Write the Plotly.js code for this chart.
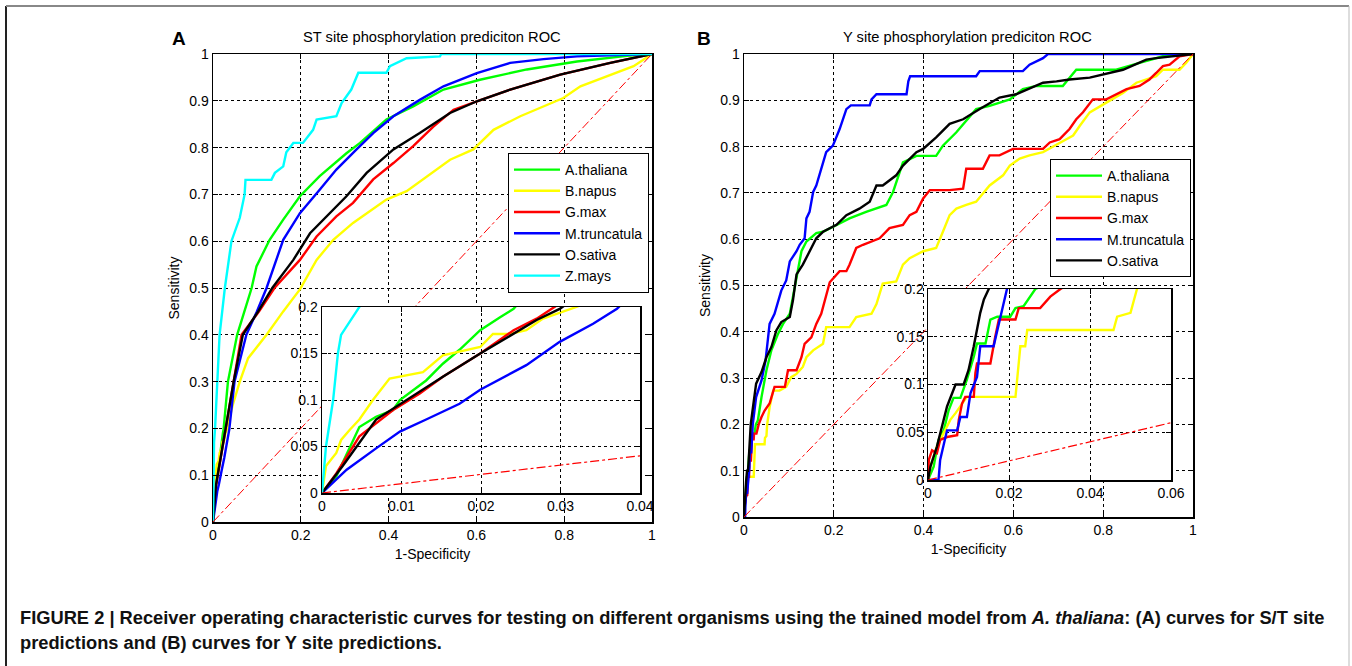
<!DOCTYPE html>
<html>
<head>
<meta charset="utf-8">
<script src="https://cdn.plot.ly/plotly-3.0.1.min.js"></script>
<style>html,body{margin:0;padding:0;background:#fff;}#chart{width:1352px;height:666px;}</style>
</head>
<body>
<div id="chart"></div>
<script>
// ---------- Panel A: S/T site ROC ----------
const seriesNames = ["A.thaliana", "B.napus", "G.max", "M.truncatula", "O.sativa", "Z.mays"];
const seriesColors = ["#00ff00", "#ffff00", "#ff0000", "#0000ff", "#000000", "#00ffff"];

const stThalX = [0,0.0018,0.0047,0.0068,0.0089,0.0098,0.0131,0.0152,0.0173,0.0199,0.0224,0.0241,0.034,0.055,0.088,0.099,0.129,0.16,0.198,0.243,0.304,0.335,0.395,0.456,0.525,0.608,0.715,0.829,0.943,1];
const stThalY = [0,0.018,0.071,0.082,0.089,0.1,0.121,0.139,0.154,0.175,0.189,0.198,0.3,0.4,0.5,0.546,0.603,0.646,0.696,0.739,0.788,0.81,0.86,0.888,0.924,0.945,0.967,0.984,0.996,1];

const stNapX = [0,0.0005,0.0018,0.0024,0.0035,0.0047,0.0064,0.0085,0.0127,0.0152,0.0199,0.0215,0.0236,0.0257,0.0278,0.032,0.045,0.061,0.08,0.122,0.16,0.198,0.236,0.274,0.319,0.35,0.395,0.441,0.487,0.54,0.593,0.639,0.7,0.753,0.798,0.837,0.905,0.958,1];
const stNapY = [0,0.029,0.043,0.057,0.068,0.079,0.1,0.123,0.13,0.148,0.157,0.171,0.171,0.175,0.1875,0.2,0.25,0.3,0.35,0.4,0.45,0.497,0.56,0.603,0.639,0.66,0.689,0.707,0.739,0.774,0.796,0.838,0.867,0.888,0.906,0.931,0.956,0.974,1];

const stMaxX = [0,0.0018,0.0047,0.0089,0.0123,0.0152,0.0199,0.0241,0.027,0.0293,0.047,0.065,0.105,0.14,0.16,0.198,0.236,0.281,0.319,0.365,0.411,0.456,0.502,0.548,0.601,0.677,0.791,0.905,1];
const stMaxY = [0,0.021,0.061,0.089,0.107,0.125,0.15,0.175,0.1875,0.2,0.3,0.4,0.45,0.5,0.52,0.56,0.61,0.653,0.682,0.732,0.767,0.803,0.845,0.881,0.899,0.924,0.956,0.981,1];

const stTruX = [0,0.0031,0.0068,0.0098,0.0131,0.0173,0.0199,0.0257,0.0299,0.0341,0.0371,0.049,0.076,0.1,0.122,0.16,0.198,0.243,0.281,0.327,0.365,0.411,0.471,0.525,0.601,0.677,0.753,0.829,1];
const stTruY = [0,0.025,0.048,0.066,0.079,0.096,0.111,0.1375,0.1625,0.182,0.198,0.3,0.4,0.45,0.5,0.603,0.66,0.71,0.753,0.796,0.831,0.867,0.902,0.931,0.959,0.981,0.989,0.995,1];

const stSatX = [0,0.0026,0.0068,0.0106,0.0152,0.0199,0.0241,0.027,0.0299,0.047,0.068,0.103,0.135,0.15,0.183,0.221,0.259,0.304,0.35,0.411,0.471,0.54,0.601,0.677,0.791,0.905,1];
const stSatY = [0,0.029,0.079,0.1,0.125,0.15,0.171,0.186,0.198,0.3,0.4,0.45,0.5,0.518,0.56,0.617,0.653,0.696,0.746,0.796,0.831,0.874,0.899,0.924,0.956,0.981,1];

const stMayX = [0,0.0005,0.0014,0.002,0.0024,0.0047,0.009,0.015,0.027,0.042,0.061,0.072,0.074,0.133,0.141,0.16,0.167,0.183,0.205,0.228,0.236,0.281,0.293,0.315,0.331,0.395,0.403,0.441,0.517,0.52,1];
const stMayY = [0,0.05,0.1,0.15,0.17,0.2,0.3,0.4,0.5,0.6,0.65,0.7,0.731,0.731,0.746,0.76,0.79,0.81,0.81,0.838,0.86,0.867,0.895,0.924,0.96,0.96,0.974,0.991,0.995,1,1];

// ---------- Panel B: Y site ROC ----------
const yThalX = [0,0.0014,0.0026,0.0039,0.0051,0.0063,0.008,0.0096,0.0113,0.0121,0.0142,0.0154,0.0171,0.0203,0.0216,0.0236,0.0265,0.031,0.039,0.05,0.061,0.076,0.087,0.102,0.109,0.117,0.128,0.139,0.161,0.176,0.206,0.235,0.272,0.295,0.317,0.332,0.347,0.354,0.384,0.428,0.443,0.473,0.517,0.547,0.592,0.621,0.651,0.71,0.74,0.829,0.881,0.933,1];
const yThalY = [0,0.014,0.042,0.052,0.073,0.086,0.086,0.105,0.129,0.143,0.143,0.168,0.171,0.171,0.18,0.182,0.2,0.209,0.259,0.317,0.36,0.396,0.417,0.439,0.475,0.516,0.574,0.595,0.613,0.616,0.631,0.645,0.659,0.666,0.674,0.702,0.745,0.766,0.78,0.78,0.802,0.831,0.881,0.888,0.902,0.924,0.931,0.931,0.966,0.966,0.981,0.995,1];

const yNapX = [0,0.0006,0.0022,0.0039,0.0055,0.0068,0.008,0.0096,0.0216,0.022,0.0224,0.0228,0.024,0.0245,0.0458,0.0467,0.05,0.0508,0.0516,0.057,0.065,0.079,0.094,0.105,0.117,0.131,0.139,0.154,0.176,0.183,0.235,0.25,0.284,0.295,0.309,0.339,0.354,0.369,0.399,0.428,0.436,0.443,0.458,0.473,0.495,0.517,0.547,0.577,0.592,0.614,0.636,0.666,0.718,0.733,0.748,0.77,0.807,0.844,0.874,0.918,0.933,0.97,0.985,1];
const yNapY = [0,0.014,0.035,0.049,0.063,0.07,0.077,0.087,0.087,0.105,0.122,0.14,0.14,0.157,0.157,0.171,0.175,0.189,0.2,0.237,0.273,0.273,0.281,0.302,0.309,0.324,0.345,0.36,0.374,0.41,0.41,0.432,0.439,0.46,0.504,0.509,0.545,0.559,0.574,0.581,0.602,0.616,0.652,0.666,0.674,0.681,0.716,0.738,0.759,0.774,0.781,0.788,0.816,0.824,0.845,0.874,0.895,0.916,0.938,0.952,0.966,0.966,0.981,1];

const yMaxX = [0,0.0002,0.001,0.0022,0.003,0.0047,0.0072,0.0076,0.0084,0.0092,0.0113,0.0117,0.0121,0.0154,0.0166,0.0175,0.0216,0.0224,0.0277,0.0302,0.0327,0.039,0.046,0.057,0.068,0.079,0.091,0.098,0.117,0.128,0.135,0.15,0.161,0.172,0.183,0.191,0.213,0.228,0.235,0.25,0.265,0.302,0.324,0.354,0.369,0.384,0.399,0.414,0.458,0.488,0.495,0.532,0.547,0.569,0.599,0.666,0.681,0.703,0.725,0.74,0.755,0.777,0.807,0.837,0.852,0.881,0.903,0.918,0.933,0.948,0.97,1];
const yMaxY = [0,0.021,0.031,0.028,0.042,0.045,0.047,0.063,0.08,0.087,0.087,0.112,0.122,0.122,0.15,0.168,0.168,0.18,0.18,0.192,0.2,0.216,0.23,0.245,0.281,0.281,0.281,0.317,0.317,0.345,0.374,0.388,0.417,0.439,0.482,0.507,0.531,0.531,0.545,0.581,0.588,0.602,0.624,0.631,0.652,0.659,0.688,0.706,0.706,0.709,0.752,0.752,0.781,0.781,0.795,0.795,0.809,0.816,0.838,0.859,0.874,0.902,0.902,0.916,0.924,0.931,0.945,0.959,0.974,0.977,0.995,1];

const yTruX = [0,0.0026,0.003,0.0047,0.0072,0.008,0.0096,0.0105,0.0121,0.0129,0.0162,0.0179,0.0195,0.027,0.039,0.048,0.057,0.068,0.083,0.094,0.102,0.117,0.124,0.135,0.139,0.146,0.154,0.161,0.172,0.183,0.198,0.213,0.228,0.238,0.28,0.284,0.295,0.362,0.366,0.37,0.517,0.525,0.621,0.636,0.666,0.677,1];
const yTruY = [0,0,0.021,0.052,0.052,0.066,0.066,0.091,0.108,0.14,0.14,0.171,0.2,0.259,0.295,0.338,0.417,0.439,0.489,0.511,0.552,0.574,0.588,0.602,0.645,0.659,0.702,0.716,0.752,0.788,0.802,0.838,0.881,0.889,0.889,0.902,0.913,0.913,0.941,0.952,0.952,0.963,0.963,0.977,0.991,1,1];

const ySatX = [0,0.0006,0.0022,0.0039,0.0047,0.0068,0.0088,0.01,0.0113,0.0129,0.0138,0.015,0.02,0.027,0.039,0.05,0.061,0.072,0.083,0.102,0.109,0.117,0.131,0.146,0.161,0.176,0.191,0.206,0.228,0.257,0.28,0.295,0.309,0.339,0.354,0.384,0.399,0.428,0.458,0.488,0.525,0.569,0.606,0.666,0.696,0.725,0.77,0.844,0.896,0.918,1];
const ySatY = [0,0.014,0.035,0.063,0.077,0.1,0.1,0.115,0.14,0.175,0.189,0.2,0.237,0.288,0.313,0.345,0.367,0.403,0.421,0.432,0.468,0.524,0.545,0.574,0.602,0.616,0.624,0.631,0.652,0.666,0.681,0.716,0.716,0.738,0.759,0.788,0.795,0.82,0.849,0.859,0.881,0.906,0.913,0.938,0.941,0.945,0.949,0.966,0.988,0.991,1];

// chance diagonal
const diagX = [0, 1];
const diagY = [0, 1];

// tick labels
const mainXTicks = [0, 0.2, 0.4, 0.6, 0.8, 1];
const mainYTicks = [0, 0.1, 0.2, 0.3, 0.4, 0.5, 0.6, 0.7, 0.8, 0.9, 1];
const insetAXTicks = [0, 0.01, 0.02, 0.03, 0.04];
const insetBXTicks = [0, 0.02, 0.04, 0.06];
const insetYTicks = [0, 0.05, 0.1, 0.15, 0.2];

const panelA = [[stThalX, stThalY], [stNapX, stNapY], [stMaxX, stMaxY], [stTruX, stTruY], [stSatX, stSatY], [stMayX, stMayY]];
const panelB = [[yThalX, yThalY], [yNapX, yNapY], [yMaxX, yMaxY], [yTruX, yTruY], [ySatX, ySatY]];

const W = 1352, H = 666;
const px = v => v / W;
const py = v => 1 - v / H;

const traces = [];
function addPanel(data, xa, ya, xi, yi, legendId) {
  data.forEach((d, i) => {
    traces.push({x: d[0], y: d[1], xaxis: xa, yaxis: ya, type: 'scatter', mode: 'lines',
      name: seriesNames[i], legend: legendId, showlegend: true,
      line: {color: seriesColors[i], width: 2.4}, hoverinfo: 'skip'});
  });
  traces.push({x: diagX, y: diagY, xaxis: xa, yaxis: ya, mode: 'lines', showlegend: false,
    line: {color: '#ff0000', width: 1, dash: 'dashdot'}, hoverinfo: 'skip'});
  data.forEach((d, i) => {
    traces.push({x: d[0], y: d[1], xaxis: xi, yaxis: yi, type: 'scatter', mode: 'lines',
      name: seriesNames[i], showlegend: false,
      line: {color: seriesColors[i], width: 2.4}, hoverinfo: 'skip'});
  });
  traces.push({x: diagX, y: diagY, xaxis: xi, yaxis: yi, mode: 'lines', showlegend: false,
    line: {color: '#ff0000', width: 1.2, dash: 'dashdot'}, hoverinfo: 'skip'});
}
addPanel(panelA, 'x', 'y', 'x2', 'y2', 'legend');
addPanel(panelB, 'x3', 'y3', 'x4', 'y4', 'legend2');

const tickFont = {family: 'Liberation Sans, Arial, sans-serif', size: 14, color: '#000'};
function ax(domain, range, tickvals, anchor, extra) {
  return Object.assign({
    domain: domain, range: range, tickvals: tickvals, anchor: anchor,
    ticks: 'inside', ticklen: 5, tickcolor: '#000', tickwidth: 1,
    showline: true, linecolor: '#000', linewidth: 1.5, mirror: 'allticks',
    showgrid: true, gridcolor: '#000', griddash: 'dot', gridwidth: 1,
    zeroline: false, tickfont: tickFont, fixedrange: true, layer: 'above traces'
  }, extra || {});
}

const legendFont = {family: 'Liberation Sans, Arial, sans-serif', size: 14, color: '#000'};
const captionFont = {family: 'Liberation Sans, Arial, sans-serif', size: 18.3, color: '#111'};

const layout = {
  width: W, height: H,
  margin: {l: 0, r: 0, t: 0, b: 0},
  paper_bgcolor: '#fff', plot_bgcolor: '#fff',
  font: {family: 'Liberation Sans, Arial, sans-serif', color: '#000'},
  xaxis: ax([px(213), px(652)], [0, 1], mainXTicks, 'y',
    {title: {text: '1-Specificity', font: {size: 14}, standoff: 7}}),
  yaxis: ax([py(522), py(54)], [0, 1], mainYTicks, 'x',
    {title: {text: 'Sensitivity', font: {size: 14}, standoff: 6}}),
  xaxis2: ax([px(322), px(640)], [0, 0.04], insetAXTicks, 'y2'),
  yaxis2: ax([py(493), py(307)], [0, 0.2], insetYTicks, 'x2'),
  xaxis3: ax([px(744), px(1193)], [0, 1], mainXTicks, 'y3',
    {title: {text: '1-Specificity', font: {size: 14}, standoff: 7}}),
  yaxis3: ax([py(517), py(54)], [0, 1], mainYTicks, 'x3',
    {title: {text: 'Sensitivity', font: {size: 14}, standoff: 6}}),
  xaxis4: ax([px(928), px(1171)], [0, 0.06], insetBXTicks, 'y4'),
  yaxis4: ax([py(480), py(289)], [0, 0.2], insetYTicks, 'x4'),
  legend: {x: px(649), y: py(153), xanchor: 'right', yanchor: 'top', itemwidth: 46,
    bgcolor: '#fff', bordercolor: '#000', borderwidth: 1, font: legendFont},
  legend2: {x: px(1191), y: py(159), xanchor: 'right', yanchor: 'top', itemwidth: 46,
    bgcolor: '#fff', bordercolor: '#000', borderwidth: 1, font: legendFont},
  annotations: [
    {text: 'ST site phosphorylation prediciton ROC', x: px(432), y: py(37), xref: 'paper', yref: 'paper',
      xanchor: 'center', yanchor: 'middle', showarrow: false, font: {size: 14.7}},
    {text: 'Y site phosphorylation prediciton ROC', x: px(967), y: py(37), xref: 'paper', yref: 'paper',
      xanchor: 'center', yanchor: 'middle', showarrow: false, font: {size: 14.7}},
    {text: '<b>A</b>', x: px(170), y: py(38), xref: 'paper', yref: 'paper',
      xanchor: 'left', yanchor: 'middle', showarrow: false, font: {size: 19}},
    {text: '<b>B</b>', x: px(695), y: py(38), xref: 'paper', yref: 'paper',
      xanchor: 'left', yanchor: 'middle', showarrow: false, font: {size: 19}},
    {text: '<b>FIGURE 2 | Receiver operating characteristic curves for testing on different organisms using the trained model from <i>A. thaliana</i>: (A) curves for S/T site</b>',
      x: px(18), y: py(617), xref: 'paper', yref: 'paper', xanchor: 'left', yanchor: 'middle', showarrow: false,
      font: captionFont},
    {text: '<b>predictions and (B) curves for Y site predictions.</b>',
      x: px(18), y: py(642), xref: 'paper', yref: 'paper', xanchor: 'left', yanchor: 'middle', showarrow: false,
      font: captionFont}
  ],
  shapes: [
    {type: 'line', xref: 'paper', yref: 'paper', x0: px(6), x1: px(6), y0: py(6), y1: 0, line: {color: '#222', width: 2}},
    {type: 'line', xref: 'paper', yref: 'paper', x0: px(6), x1: px(1349), y0: py(6), y1: py(6), line: {color: '#888', width: 2}},
    {type: 'line', xref: 'paper', yref: 'paper', x0: px(1349), x1: px(1349), y0: py(6), y1: 0, line: {color: '#bbb', width: 1}}
  ]
};

Plotly.newPlot('chart', traces, layout, {displayModeBar: false, staticPlot: true});
</script>
</body>
</html>
